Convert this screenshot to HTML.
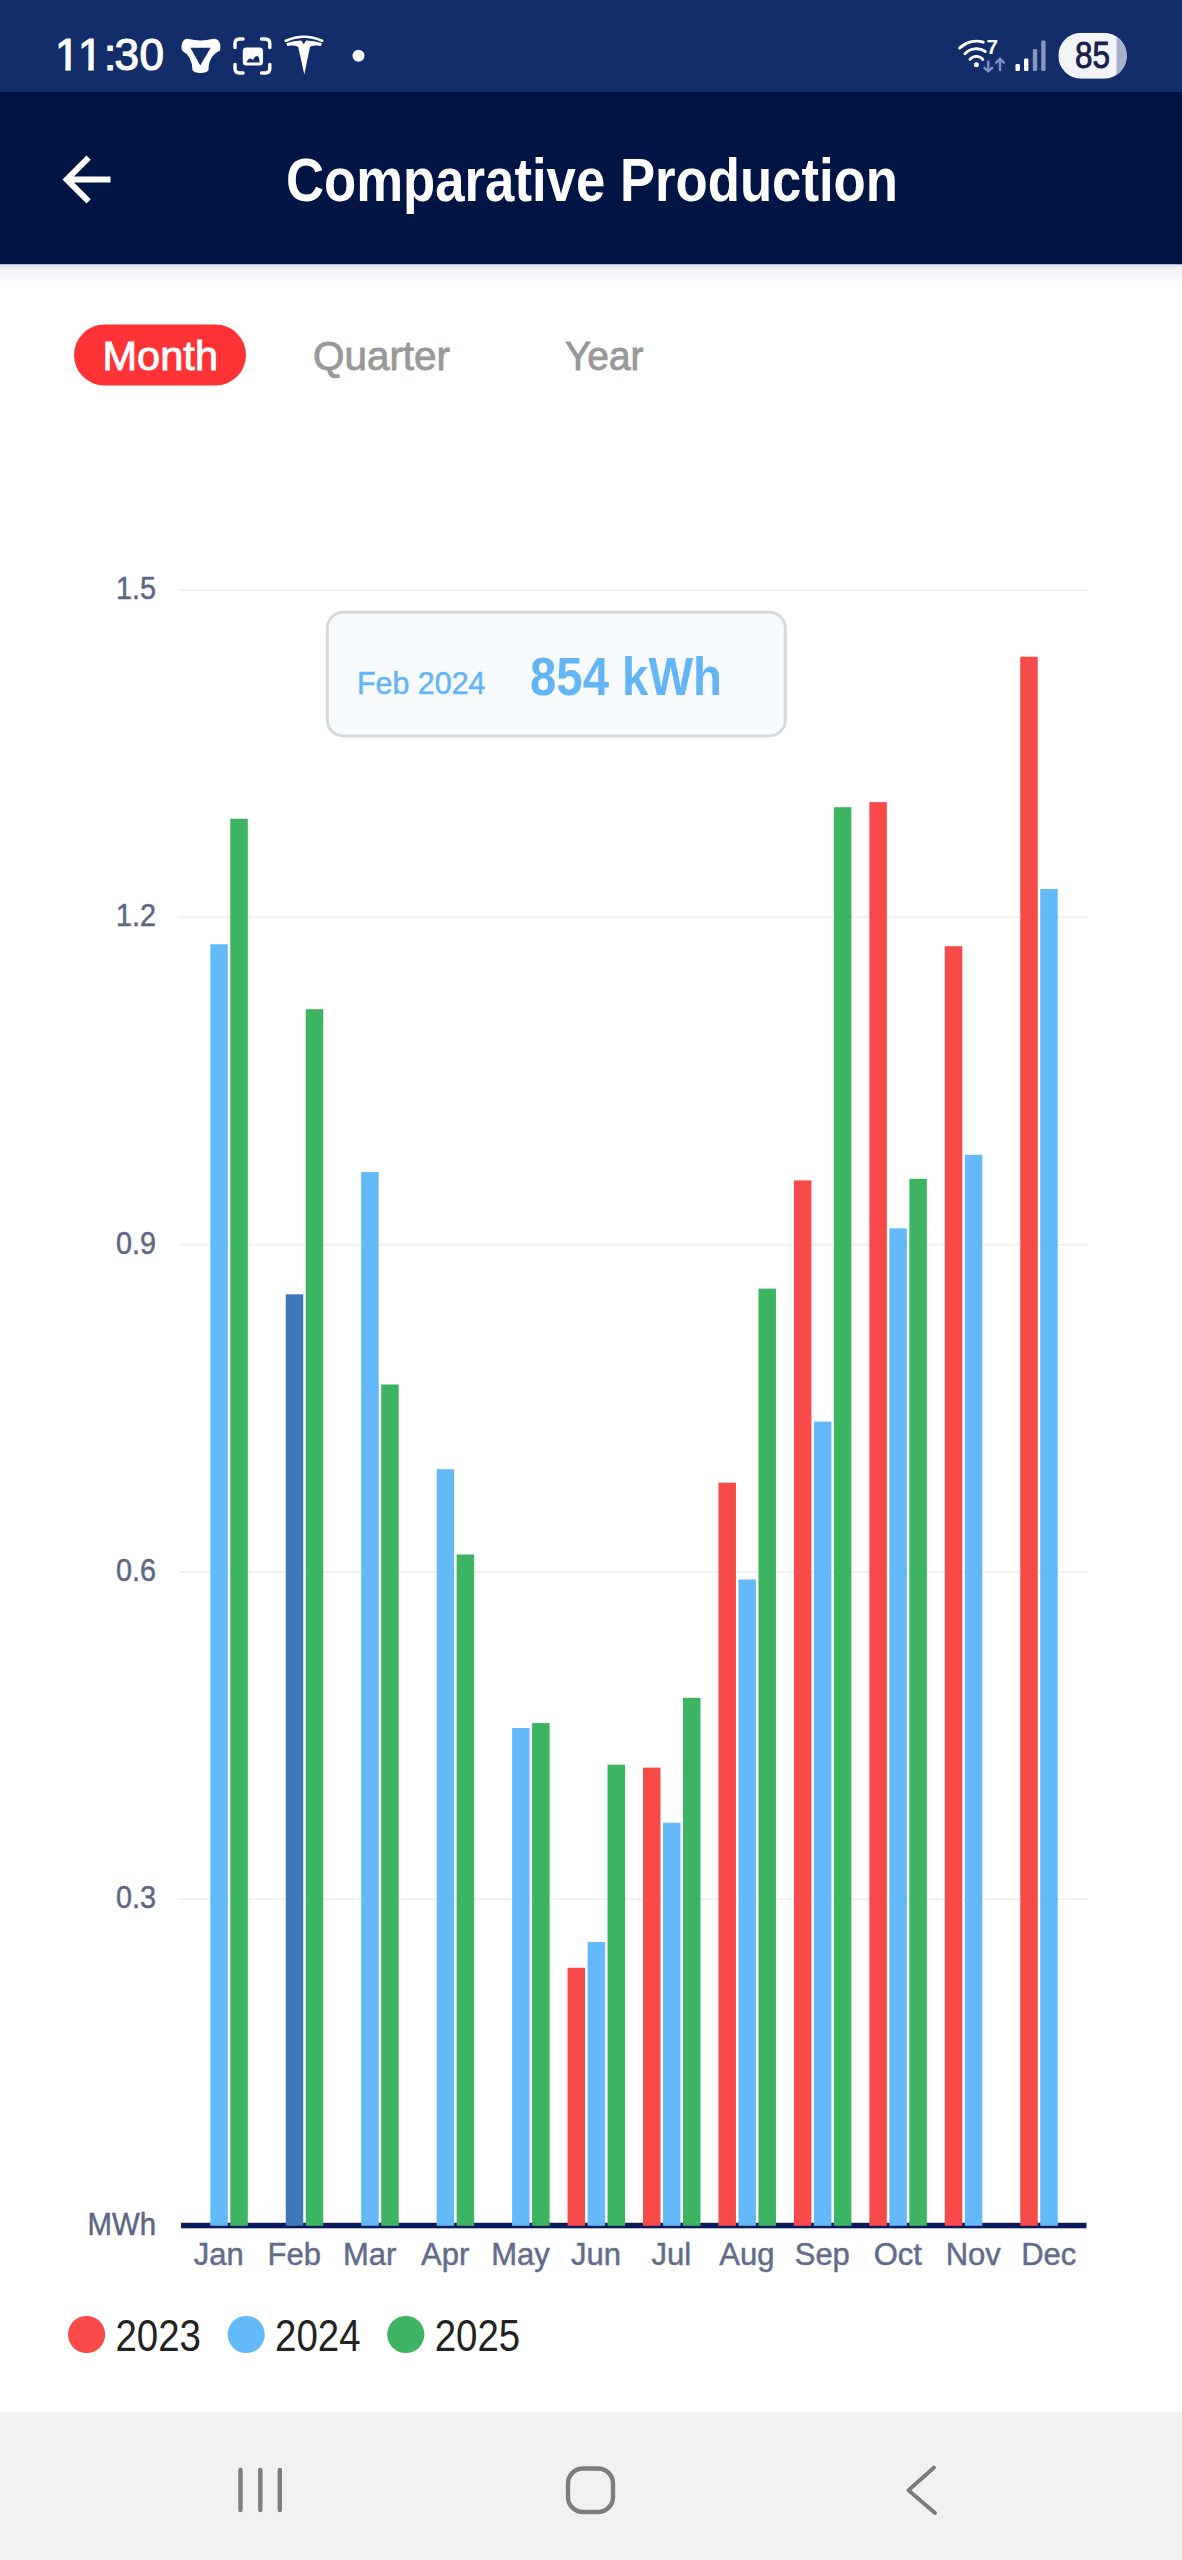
<!DOCTYPE html>
<html><head><meta charset="utf-8"><title>Comparative Production</title>
<style>
html,body{margin:0;padding:0;background:#fff;}
body{width:1182px;height:2560px;overflow:hidden;}
svg{display:block;font-family:"Liberation Sans", Arial, sans-serif;}
</style></head><body>
<svg width="1182" height="2560" viewBox="0 0 1182 2560">
<rect x="0" y="0" width="1182" height="2560" fill="#ffffff"/>
<rect x="0" y="0" width="1182" height="92" fill="#132d6a"/>
<clipPath id="tc"><rect x="40" y="25" width="140" height="40.8"/><rect x="65.4" y="60" width="5.3" height="20"/><rect x="88.4" y="60" width="5.3" height="20"/><rect x="102.5" y="60" width="80" height="20"/></clipPath>
<text y="69.8" font-size="44" fill="#fff" stroke="#fff" stroke-width="1.2" clip-path="url(#tc)"><tspan x="55">1</tspan><tspan x="78">1</tspan><tspan x="104">:</tspan><tspan x="114.5">3</tspan><tspan x="139.6">0</tspan></text>
<path fill="#fff" fill-rule="evenodd" d="M188.5 39 Q201 41.8 212.5 39 C218 37.5 221.8 43 220 50.5 Q208.5 56 208.5 70 C207 74 194 74 192.5 70 Q192 56 182 50.5 C180.2 43 184 37.5 188.5 39 Z M190.4 47.7 L210.7 47.7 L200.3 65.4 Z"/>
<g fill="none" stroke="#fff" stroke-width="3.4" stroke-linecap="round"><path d="M235 47.5 V43.5 Q235 39 239.5 39 H243"/><path d="M261.5 39 H265 Q269.8 39 269.8 43.5 V47.5"/><path d="M235 64.5 V68.5 Q235 73 239.5 73 H243"/><path d="M261.5 73 H265 Q269.8 73 269.8 68.5 V64.5"/></g>
<rect x="242.8" y="47.6" width="20.2" height="18" rx="3.5" fill="#fff"/>
<path d="M246.5 62.5 Q248 58.5 250.5 58.5 Q252 58.5 253 60 Q254.5 56 257 56 Q259.5 56 259.5 62.5 Z" fill="#132d6a"/>
<path fill="none" stroke="#fff" stroke-width="2.6" stroke-linecap="round" d="M285.8 40.8 Q304 32.6 322.2 40.8"/>
<path fill="#fff" d="M286.3 43 Q294 40.6 301.2 40.5 L303.7 44.2 L306.2 40.5 Q314 40.6 321.8 43 L321 46 Q314.5 44.6 310 46.8 L304.3 74.6 L298.2 46.8 Q293.5 44.6 287.2 46 Z"/>
<circle cx="358.5" cy="55.7" r="6" fill="#fff"/>
<g fill="none" stroke="#fff" stroke-width="2.9" stroke-linecap="round"><path d="M969.97 59.4 A8.4 8.4 0 0 1 982.83 59.4"/><path d="M964.89 53.69 A16 16 0 0 1 985.35 51.54"/><path d="M959.64 48.04 A23.7 23.7 0 0 1 983.33 42.14"/></g>
<circle cx="976.4" cy="64.8" r="2.5" fill="#fff"/>
<text x="986.6" y="53.6" font-size="19.5" fill="#fff" font-weight="700" text-anchor="start" textLength="11.5" lengthAdjust="spacingAndGlyphs">7</text>
<g fill="none" stroke="#7d8fc4" stroke-width="2.4" stroke-linecap="round" stroke-linejoin="round"><path d="M988.3 61.5 V71.5 M984.5 67.8 L988.3 71.5 L992.1 67.8"/><path d="M1000 70 V58.8 M996.2 62.6 L1000 58.8 L1003.8 62.6"/></g>
<rect x="1015.5" y="64" width="4.4" height="7" rx="1.2" fill="#fff"/>
<rect x="1024" y="58.5" width="4.4" height="12.5" rx="1.2" fill="#fff"/>
<rect x="1032.8" y="49" width="4.4" height="22" rx="1.2" fill="#8795bd"/>
<rect x="1041.2" y="40.5" width="4.4" height="30.5" rx="1.2" fill="#8795bd"/>
<clipPath id="bc"><rect x="1058.3" y="32.8" width="68.5" height="46" rx="23"/></clipPath>
<g clip-path="url(#bc)"><rect x="1058.3" y="32.8" width="68.5" height="46" fill="#f3f4f9"/><rect x="1116.5" y="32.8" width="12" height="46" fill="#a9b1ca"/></g>
<text x="1075" y="68.3" font-size="37" fill="#16204a" font-weight="400" text-anchor="start" textLength="35" lengthAdjust="spacingAndGlyphs" stroke="#16204a" stroke-width="0.9">85</text>
<rect x="0" y="92" width="1182" height="172.5" fill="#011545"/>
<path transform="translate(50.5,143.5) scale(3)" fill="#fff" d="M20 11H7.83l5.59-5.59L12 4l-8 8 8 8 1.41-1.41L7.83 13H20v-2z"/>
<text x="286" y="200.8" font-size="60.5" fill="#fff" font-weight="700" text-anchor="start" textLength="612" lengthAdjust="spacingAndGlyphs">Comparative Production</text>
<defs><linearGradient id="sh" x1="0" y1="0" x2="0" y2="1"><stop offset="0" stop-color="#eef0f2"/><stop offset="1" stop-color="#ffffff"/></linearGradient></defs>
<rect x="0" y="264.5" width="1182" height="3.5" fill="#e4eaf4"/>
<rect x="0" y="268" width="1182" height="16" fill="url(#sh)"/>
<rect x="74" y="324.5" width="172" height="61" rx="30.5" fill="#fd3335"/>
<text x="102.5" y="370" font-size="41.5" fill="#fff" font-weight="500" text-anchor="start" textLength="115.5" lengthAdjust="spacingAndGlyphs" stroke="#fff" stroke-width="0.9">Month</text>
<text x="313" y="370.3" font-size="41.5" fill="#999999" font-weight="500" text-anchor="start" textLength="137" lengthAdjust="spacingAndGlyphs" stroke="#999999" stroke-width="0.9">Quarter</text>
<text x="565" y="370.3" font-size="41.5" fill="#999999" font-weight="500" text-anchor="start" textLength="78.5" lengthAdjust="spacingAndGlyphs" stroke="#999999" stroke-width="0.9">Year</text>
<rect x="179" y="589.2" width="909" height="1.6" fill="#efefef"/>
<text x="116" y="599" font-size="31.5" fill="#5c6784" font-weight="400" text-anchor="start" textLength="40" lengthAdjust="spacingAndGlyphs" stroke="#5c6784" stroke-width="0.5">1.5</text>
<rect x="179" y="916.5" width="909" height="1.6" fill="#efefef"/>
<text x="116" y="926.3" font-size="31.5" fill="#5c6784" font-weight="400" text-anchor="start" textLength="40" lengthAdjust="spacingAndGlyphs" stroke="#5c6784" stroke-width="0.5">1.2</text>
<rect x="179" y="1243.8" width="909" height="1.6" fill="#efefef"/>
<text x="116" y="1253.6" font-size="31.5" fill="#5c6784" font-weight="400" text-anchor="start" textLength="40" lengthAdjust="spacingAndGlyphs" stroke="#5c6784" stroke-width="0.5">0.9</text>
<rect x="179" y="1571.1000000000001" width="909" height="1.6" fill="#efefef"/>
<text x="116" y="1580.9" font-size="31.5" fill="#5c6784" font-weight="400" text-anchor="start" textLength="40" lengthAdjust="spacingAndGlyphs" stroke="#5c6784" stroke-width="0.5">0.6</text>
<rect x="179" y="1898.4" width="909" height="1.6" fill="#efefef"/>
<text x="116" y="1908.2" font-size="31.5" fill="#5c6784" font-weight="400" text-anchor="start" textLength="40" lengthAdjust="spacingAndGlyphs" stroke="#5c6784" stroke-width="0.5">0.3</text>
<text x="87.5" y="2234.5" font-size="31.5" fill="#5c6784" font-weight="400" text-anchor="start" textLength="68.5" lengthAdjust="spacingAndGlyphs" stroke="#5c6784" stroke-width="0.5">MWh</text>
<rect x="181" y="2222.8" width="905.5" height="5.5" fill="#0b1a58"/>
<rect x="210.30" y="944.3" width="17.5" height="1281.5" fill="#64b9f9"/>
<rect x="230.30" y="818.7" width="17.5" height="1407.1" fill="#3db462"/>
<rect x="285.75" y="1294.3" width="17.5" height="931.5" fill="#3d78b8"/>
<rect x="305.75" y="1009.2" width="17.5" height="1216.6" fill="#3db462"/>
<rect x="361.20" y="1172.0" width="17.5" height="1053.8" fill="#64b9f9"/>
<rect x="381.20" y="1384.5" width="17.5" height="841.3" fill="#3db462"/>
<rect x="436.65" y="1469.2" width="17.5" height="756.6" fill="#64b9f9"/>
<rect x="456.65" y="1554.5" width="17.5" height="671.3" fill="#3db462"/>
<rect x="512.10" y="1728.0" width="17.5" height="497.8" fill="#64b9f9"/>
<rect x="532.10" y="1723.0" width="17.5" height="502.8" fill="#3db462"/>
<rect x="567.55" y="1967.8" width="17.5" height="258.0" fill="#f94a4a"/>
<rect x="587.55" y="1942.0" width="17.5" height="283.8" fill="#64b9f9"/>
<rect x="607.55" y="1764.7" width="17.5" height="461.1" fill="#3db462"/>
<rect x="643.00" y="1767.6" width="17.5" height="458.2" fill="#f94a4a"/>
<rect x="663.00" y="1822.7" width="17.5" height="403.1" fill="#64b9f9"/>
<rect x="683.00" y="1697.8" width="17.5" height="528.0" fill="#3db462"/>
<rect x="718.45" y="1482.7" width="17.5" height="743.1" fill="#f94a4a"/>
<rect x="738.45" y="1579.5" width="17.5" height="646.3" fill="#64b9f9"/>
<rect x="758.45" y="1288.6" width="17.5" height="937.2" fill="#3db462"/>
<rect x="793.90" y="1180.4" width="17.5" height="1045.4" fill="#f94a4a"/>
<rect x="813.90" y="1421.6" width="17.5" height="804.2" fill="#64b9f9"/>
<rect x="833.90" y="807.2" width="17.5" height="1418.6" fill="#3db462"/>
<rect x="869.35" y="802.1" width="17.5" height="1423.7" fill="#f94a4a"/>
<rect x="889.35" y="1228.4" width="17.5" height="997.4" fill="#64b9f9"/>
<rect x="909.35" y="1178.8" width="17.5" height="1047.0" fill="#3db462"/>
<rect x="944.80" y="946.2" width="17.5" height="1279.6" fill="#f94a4a"/>
<rect x="964.80" y="1154.8" width="17.5" height="1071.0" fill="#64b9f9"/>
<rect x="1020.25" y="656.7" width="17.5" height="1569.1" fill="#f94a4a"/>
<rect x="1040.25" y="889.0" width="17.5" height="1336.8" fill="#64b9f9"/>
<text x="218.7" y="2264.5" font-size="31" fill="#616c8a" font-weight="400" text-anchor="middle" stroke="#66728f" stroke-width="0.5">Jan</text>
<text x="294.2" y="2264.5" font-size="31" fill="#616c8a" font-weight="400" text-anchor="middle" stroke="#66728f" stroke-width="0.5">Feb</text>
<text x="369.6" y="2264.5" font-size="31" fill="#616c8a" font-weight="400" text-anchor="middle" stroke="#66728f" stroke-width="0.5">Mar</text>
<text x="445.1" y="2264.5" font-size="31" fill="#616c8a" font-weight="400" text-anchor="middle" stroke="#66728f" stroke-width="0.5">Apr</text>
<text x="520.5" y="2264.5" font-size="31" fill="#616c8a" font-weight="400" text-anchor="middle" stroke="#66728f" stroke-width="0.5">May</text>
<text x="596.0" y="2264.5" font-size="31" fill="#616c8a" font-weight="400" text-anchor="middle" stroke="#66728f" stroke-width="0.5">Jun</text>
<text x="671.4" y="2264.5" font-size="31" fill="#616c8a" font-weight="400" text-anchor="middle" stroke="#66728f" stroke-width="0.5">Jul</text>
<text x="746.9" y="2264.5" font-size="31" fill="#616c8a" font-weight="400" text-anchor="middle" stroke="#66728f" stroke-width="0.5">Aug</text>
<text x="822.3" y="2264.5" font-size="31" fill="#616c8a" font-weight="400" text-anchor="middle" stroke="#66728f" stroke-width="0.5">Sep</text>
<text x="897.8" y="2264.5" font-size="31" fill="#616c8a" font-weight="400" text-anchor="middle" stroke="#66728f" stroke-width="0.5">Oct</text>
<text x="973.2" y="2264.5" font-size="31" fill="#616c8a" font-weight="400" text-anchor="middle" stroke="#66728f" stroke-width="0.5">Nov</text>
<text x="1048.7" y="2264.5" font-size="31" fill="#616c8a" font-weight="400" text-anchor="middle" stroke="#66728f" stroke-width="0.5">Dec</text>
<rect x="327.3" y="612.3" width="458" height="123.7" rx="16" fill="#f7fbfe" stroke="#d7d9dc" stroke-width="3"/>
<text x="357" y="694" font-size="31.5" fill="#64b5f6" font-weight="400" text-anchor="start" textLength="128.5" lengthAdjust="spacingAndGlyphs" stroke="#64b5f6" stroke-width="0.5">Feb 2024</text>
<text x="530" y="694.5" font-size="54" fill="#64b5f6" font-weight="700" text-anchor="start" textLength="192" lengthAdjust="spacingAndGlyphs">854 kWh</text>
<circle cx="86.6" cy="2334.5" r="18.6" fill="#f94a4a"/>
<text x="115.5" y="2351" font-size="43.5" fill="#222222" font-weight="400" text-anchor="start" textLength="85.5" lengthAdjust="spacingAndGlyphs">2023</text>
<circle cx="246.2" cy="2334.5" r="18.6" fill="#64b9f9"/>
<text x="275.1" y="2351" font-size="43.5" fill="#222222" font-weight="400" text-anchor="start" textLength="85.5" lengthAdjust="spacingAndGlyphs">2024</text>
<circle cx="405.8" cy="2334.5" r="18.6" fill="#3db462"/>
<text x="434.7" y="2351" font-size="43.5" fill="#222222" font-weight="400" text-anchor="start" textLength="85.5" lengthAdjust="spacingAndGlyphs">2025</text>
<rect x="0" y="2412.5" width="1182" height="147.5" fill="#f1f1f1"/>
<g stroke="#7d7d7d" stroke-width="4.4" stroke-linecap="round" fill="none"><path d="M240.5 2470 V2510 M260.3 2470 V2510 M279.8 2470 V2510"/><rect x="568" y="2468.5" width="45" height="43.5" rx="15"/></g>
<path d="M934 2467.5 L908.5 2490.3 L935 2513" fill="none" stroke="#7b7b7b" stroke-width="3.9" stroke-linecap="round" stroke-linejoin="round"/>
</svg>
</body></html>
